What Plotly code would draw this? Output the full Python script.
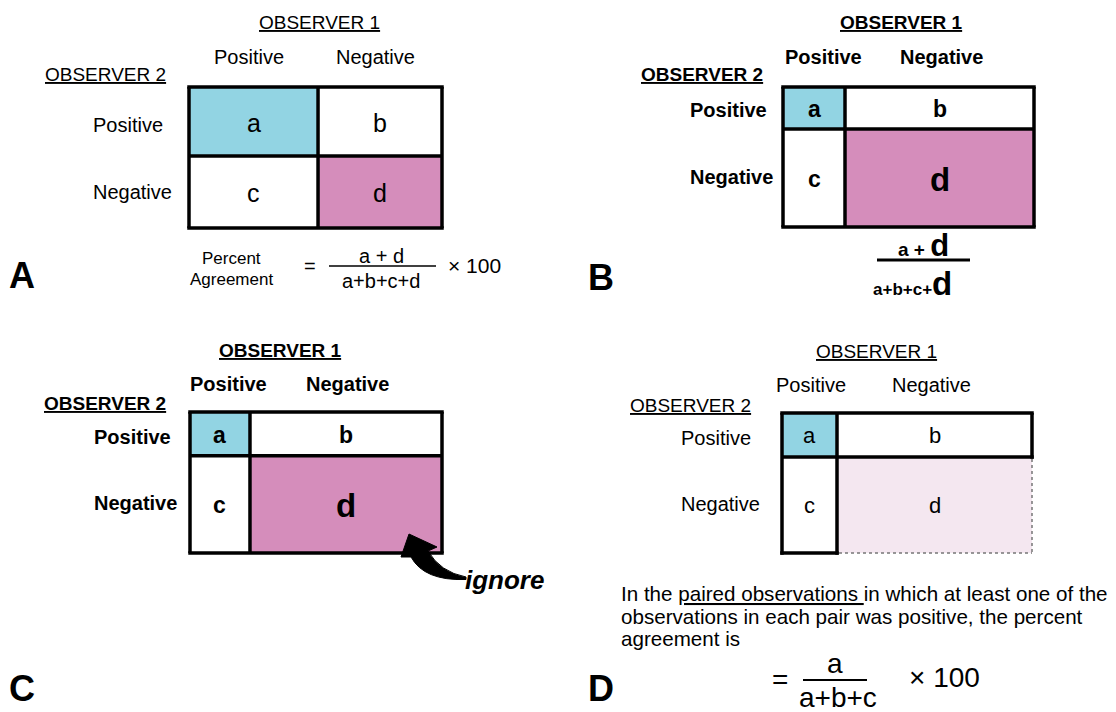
import plotly.graph_objects as go

W, H = 1116, 712
PAGE_MARGIN = 8   # default body margin of the html page
FONT = "Liberation Sans, Arial, Helvetica, sans-serif"

# ---------------- content (values / labels) ----------------
panel_letters = ["A", "B", "C", "D"]
observer_titles = ["OBSERVER 1", "OBSERVER 2"]
response_levels = ["Positive", "Negative"]
cell_names = ["a", "b", "c", "d"]
# share of the grid taken by the "Positive" column (observer 1) and row (observer 2)
col_share = [0.51, 0.247, 0.238, 0.22]
row_share = [0.49, 0.30, 0.31, 0.314]
bold_text = [False, True, True, False]
big_d = [False, True, True, False]
faded_d = [False, False, False, True]
formula_A = ["Percent", "Agreement", "=", "a + d", "a+b+c+d", "× 100"]
formula_D = ["=", "a", "a+b+c", "× 100"]
ignore_label = "ignore"
paragraph_D = [
    "In the <u>paired observations </u>in which at least one of the",
    "observations in each pair was positive, the percent",
    "agreement is",
]

# ---------------- layout (positions / styles) ----------------
CYAN = "#92D4E3"
PINK = "#D58DBB"
LIGHT_PINK = "#F4E7F0"
LW = 3.5

layout_panels = [
    dict(box=(189, 87, 442, 228), obs1=(319, 22), obs2=(43, 74), hdr=(249, 375, 57),
         rows=(91, 125, 192), letter=(22, 275), cell=25),
    dict(box=(783, 87, 1034, 227), obs1=(901, 22), obs2=(639, 74), hdr=(823, 941, 57),
         rows=(688, 110, 177), letter=(601, 277), cell=23),
    dict(box=(190, 412, 442, 553), obs1=(280, 350), obs2=(42, 403), hdr=(228, 347, 384),
         rows=(92, 437, 503), letter=(22, 688), cell=23),
    dict(box=(782, 413, 1032, 553), obs1=(876, 351), obs2=(628, 405), hdr=(811, 931, 385),
         rows=(679, 438, 504), letter=(601, 688), cell=22),
]

shapes = []
annotations = []


def txt(x, y, text, size, bold=False, italic=False, xanchor="center", yanchor="middle"):
    if bold:
        text = "<b>" + text + "</b>"
    if italic:
        text = "<i>" + text + "</i>"
    annotations.append(dict(
        x=x, y=y, xref="x", yref="y", text=text, showarrow=False,
        xanchor=xanchor, yanchor=yanchor,
        font=dict(family=FONT, size=size, color="black"),
    ))


def rect(x0, y0, x1, y1, fill):
    shapes.append(dict(type="rect", xref="x", yref="y", x0=x0, y0=y0, x1=x1, y1=y1,
                       fillcolor=fill, line=dict(width=0), layer="below"))


def line(x0, y0, x1, y1, width=LW, color="black", dash="solid"):
    shapes.append(dict(type="line", xref="x", yref="y", x0=x0, y0=y0, x1=x1, y1=y1,
                       line=dict(color=color, width=width, dash=dash)))


h = LW / 2
for i, lay in enumerate(layout_panels):
    x0, y0, x1, y1 = lay["box"]
    xs = x0 + (x1 - x0) * col_share[i]
    ys = y0 + (y1 - y0) * row_share[i]
    bold = bold_text[i]

    # cells
    rect(x0, y0, xs, ys, CYAN)
    rect(xs, y0, x1, ys, "white")
    rect(x0, ys, xs, y1, "white")
    rect(xs, ys, x1, y1, LIGHT_PINK if faded_d[i] else PINK)

    # grid lines
    if faded_d[i]:
        line(x0 - h, y0, x1 + h, y0)
        line(x0, y0, x0, y1 + h)
        line(x0 - h, y1, xs + h, y1)
        line(x1, y0, x1, ys + h)
        line(x0, ys, x1 + h, ys)
        line(xs, y0, xs, y1 + h)
        line(xs + 2, y1, x1, y1, width=1.5, color="#777777", dash="dot")
        line(x1, ys + 2, x1, y1, width=1.5, color="#777777", dash="dot")
    else:
        line(x0 - h, y0, x1 + h, y0)
        line(x0 - h, y1, x1 + h, y1)
        line(x0, y0, x0, y1)
        line(x1, y0, x1, y1)
        line(x0, ys, x1, ys)
        line(xs, y0, xs, y1)

    # cell letters
    cx = [(x0 + xs) / 2, (xs + x1) / 2]
    cy = [(y0 + ys) / 2, (ys + y1) / 2]
    for k, name in enumerate(cell_names):
        r, c = divmod(k, 2)
        size = 33 if (name == "d" and big_d[i]) else lay["cell"]
        txt(cx[c], cy[r] + 1, name, size, bold=bold)

    # titles
    ox, oy = lay["obs1"]
    txt(ox, oy, "<u>" + observer_titles[0] + "</u>", 19, bold=bold)
    ox, oy = lay["obs2"]
    txt(ox, oy, "<u>" + observer_titles[1] + "</u>", 19, bold=bold, xanchor="left")
    hx1, hx2, hy = lay["hdr"]
    txt(hx1, hy, response_levels[0], 20, bold=bold)
    txt(hx2, hy, response_levels[1], 20, bold=bold)
    rx, ry1, ry2 = lay["rows"]
    txt(rx, ry1, response_levels[0], 20, bold=bold, xanchor="left")
    txt(rx, ry2, response_levels[1], 20, bold=bold, xanchor="left")

    lx, ly = lay["letter"]
    txt(lx, ly, panel_letters[i], 36, bold=True)

# ---- panel A formula
txt(231, 258, formula_A[0], 17)
txt(231, 279, formula_A[1], 17)
txt(310, 266, formula_A[2], 20)
txt(381, 256, formula_A[3], 20)
line(329, 266, 436, 266, width=1.6)
txt(381, 281, formula_A[4], 20)
txt(474, 265, formula_A[5], 21)

# ---- panel B formula (bold, with emphasised d)
num_B = "a + <span style='font-size:31px'>d</span>"
den_B = "a+b+c+<span style='font-size:33px'>d</span>"
txt(923, 245, num_B, 19, bold=True)
line(877, 260, 970, 260, width=3)
txt(912, 283, den_B, 17, bold=True)

# ---- panel C "ignore" arrow
arrow_path = ("M 409 534 L 437 547 L 428 551 "
              "Q 440 572 466 577 L 466 579.5 "
              "Q 424 581 411 557 L 401 557 Z")
shapes.append(dict(type="path", xref="x", yref="y", path=arrow_path,
                   fillcolor="black", line=dict(color="black", width=1)))
txt(504, 580, ignore_label, 26, bold=True, italic=True)

# ---- panel D text and formula
for j, ln in enumerate(paragraph_D):
    txt(619, [593, 616, 638][j], ln, 20.6, xanchor="left")
txt(780, 679, formula_D[0], 28)
txt(835, 663, formula_D[1], 28)
line(803, 680, 867, 680, width=2)
txt(838, 697, formula_D[2], 28)
txt(944, 677, formula_D[3], 28)

fig = go.Figure()
fig.update_layout(
    width=W - PAGE_MARGIN, height=H - PAGE_MARGIN,
    margin=dict(l=0, r=0, t=0, b=0),
    paper_bgcolor="white", plot_bgcolor="white",
    xaxis=dict(range=[PAGE_MARGIN, W], visible=False, fixedrange=True),
    yaxis=dict(range=[H, PAGE_MARGIN], visible=False, fixedrange=True),
    shapes=shapes, annotations=annotations, showlegend=False,
)
fig.write_html("out.html")
